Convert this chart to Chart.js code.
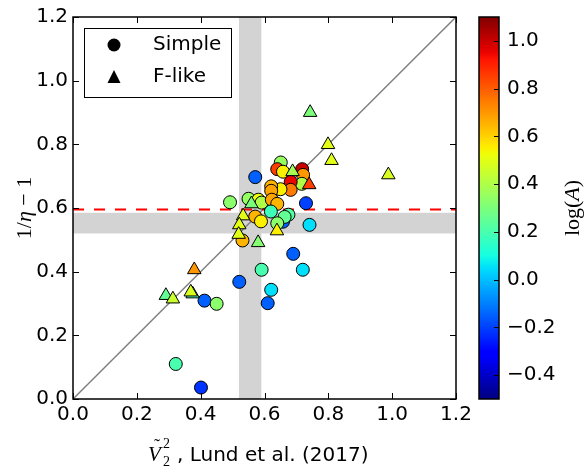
<!DOCTYPE html>
<html><head><meta charset="utf-8">
<script src="https://cdn.jsdelivr.net/npm/chart.js@4/dist/chart.umd.min.js"></script>
<style>html,body{margin:0;padding:0;background:#fff}#wrap{width:584px;height:469px}</style>
</head><body><div id="wrap"><canvas id="c" width="584" height="469"></canvas></div>
<script>
// ---- data ----
const simpleX = [0.571,0.651,0.640,0.658,0.718,0.721,0.717,0.682,0.682,0.650,0.621,0.621,0.730,0.492,0.550,0.581,0.591,0.623,0.640,0.620,0.571,0.658,0.589,0.675,0.663,0.640,0.741,0.531,0.690,0.591,0.720,0.521,0.621,0.610,0.412,0.450,0.322,0.401];
const simpleY = [0.697,0.743,0.722,0.714,0.722,0.704,0.676,0.682,0.657,0.659,0.668,0.654,0.615,0.618,0.629,0.626,0.617,0.626,0.613,0.589,0.573,0.557,0.558,0.579,0.572,0.552,0.547,0.498,0.456,0.406,0.406,0.368,0.343,0.301,0.309,0.299,0.110,0.036];
const simpleLogA = [-0.15,0.35,0.85,0.55,1.00,0.70,0.40,0.95,0.75,0.55,0.65,0.68,-0.20,0.33,0.35,0.52,0.40,0.68,0.65,0.18,0.65,-0.15,0.55,0.22,0.25,0.33,0.05,0.65,-0.15,0.20,0.05,-0.15,0.05,-0.15,-0.15,0.33,0.20,-0.22];
const flikeX = [0.743,0.799,0.810,0.988,0.688,0.740,0.559,0.533,0.521,0.519,0.639,0.580,0.380,0.291,0.313,0.375,0.369];
const flikeY = [0.900,0.799,0.749,0.704,0.714,0.673,0.613,0.575,0.547,0.517,0.528,0.491,0.406,0.325,0.314,0.330,0.336];
const flikeLogA = [0.30,0.50,0.50,0.48,0.38,0.85,0.30,0.50,0.50,0.50,0.55,0.32,0.70,0.25,0.45,0.20,0.48];
const axisTicks = [0,0.2,0.4,0.6,0.8,1.0,1.2];
const cbTicks = [-0.4,-0.2,0,0.2,0.4,0.6,0.8,1.0];
const cbMin = -0.5, cbMax = 1.1;
const vBand = [0.52,0.59];
const hBand = [0.52,0.585];
const redLineY = 0.595;
const diagLine = [0,1.2];

// ---- colormap (jet) ----
function interp(pts,t){for(let i=1;i<pts.length;i++){if(t<=pts[i][0]){const a=pts[i-1],b=pts[i];return a[1]+(b[1]-a[1])*(t-a[0])/(b[0]-a[0]);}}return pts[pts.length-1][1];}
function jet(t){t=Math.max(0,Math.min(1,t));
 const r=interp([[0,0],[0.35,0],[0.66,1],[0.89,1],[1,0.5]],t);
 const g=interp([[0,0],[0.125,0],[0.375,1],[0.64,1],[0.91,0],[1,0]],t);
 const b=interp([[0,0.5],[0.11,1],[0.34,1],[0.65,0],[1,0]],t);
 return `rgb(${Math.round(r*255)},${Math.round(g*255)},${Math.round(b*255)})`;}
const cmap = v => jet((v-cbMin)/(cbMax-cbMin));

const FONT='DejaVu Sans';
const fmt = v => { const s=Math.abs(v).toFixed(1); return (v< -1e-9?'\u2212':'')+s; };
const zeroPad = s => { s.paddingTop=0; s.paddingBottom=0; s.paddingLeft=0; s.paddingRight=0; };

const overlay = {
 id:'overlay',
 beforeDatasetsDraw(chart){
  const {ctx,chartArea:a,scales:{x,y}}=chart;
  ctx.save();
  ctx.fillStyle='#d3d3d3';
  const x0=x.getPixelForValue(vBand[0]), x1=x.getPixelForValue(vBand[1]);
  ctx.fillRect(x0,a.top,x1-x0,a.bottom-a.top);
  const y0=y.getPixelForValue(hBand[1]), y1=y.getPixelForValue(hBand[0]);
  ctx.fillRect(a.left,y0,a.right-a.left,y1-y0);
  ctx.restore();
 },
 afterDatasetsDraw(chart){
  const {ctx,chartArea:a,scales:{x,y,cb}}=chart;
  ctx.save();
  // frame
  ctx.strokeStyle='#000'; ctx.lineWidth=1.5;
  ctx.strokeRect(a.left,a.top,a.right-a.left,a.bottom-a.top);
  // inward ticks
  ctx.lineWidth=1;
  ctx.beginPath();
  axisTicks.forEach(v=>{const px=Math.round(x.getPixelForValue(v))+0.5;
    ctx.moveTo(px,a.bottom);ctx.lineTo(px,a.bottom-6);ctx.moveTo(px,a.top);ctx.lineTo(px,a.top+6);
    const py=Math.round(y.getPixelForValue(v))+0.5;
    ctx.moveTo(a.left,py);ctx.lineTo(a.left+6,py);ctx.moveTo(a.right,py);ctx.lineTo(a.right-6,py);});
  ctx.stroke();
  // colorbar
  const cx0=a.right+23, cx1=a.right+43;
  const ct=cb.getPixelForValue(cbMax), cbt=cb.getPixelForValue(cbMin);
  const grad=ctx.createLinearGradient(0,cbt,0,ct);
  for(let i=0;i<=64;i++){grad.addColorStop(i/64,jet(i/64));}
  ctx.fillStyle=grad; ctx.fillRect(cx0,ct,cx1-cx0,cbt-ct);
  ctx.lineWidth=1.5; ctx.strokeRect(cx0,ct,cx1-cx0,cbt-ct);
  ctx.lineWidth=1; ctx.beginPath();
  cbTicks.forEach(v=>{const py=Math.round(cb.getPixelForValue(v))+0.5;ctx.moveTo(cx1,py);ctx.lineTo(cx1-5,py);});
  ctx.stroke();
  // colorbar label
  ctx.save(); ctx.translate(a.right+117,(ct+cbt)/2); ctx.rotate(-Math.PI/2);
  ctx.fillStyle='#000'; ctx.textBaseline='middle';
  const p1='log(', p3=')';
  ctx.font='22px "Liberation Serif"'; const w1=ctx.measureText(p1).width, w3=ctx.measureText(p3).width;
  ctx.font='italic 22px "Liberation Serif"'; const w2=ctx.measureText('A').width;
  let sx=-(w1+w2+w3)/2;
  ctx.textAlign='left';
  ctx.font='22px "Liberation Serif"'; ctx.fillText(p1,sx,0); sx+=w1;
  ctx.font='italic 22px "Liberation Serif"'; ctx.fillText('A',sx,0); sx+=w2;
  ctx.font='22px "Liberation Serif"'; ctx.fillText(p3,sx,0);
  ctx.restore();
  // y title
  ctx.save(); ctx.translate(25,(a.top+a.bottom)/2); ctx.rotate(-Math.PI/2);
  ctx.fillStyle='#000'; ctx.textBaseline='middle'; ctx.textAlign='left';
  const parts=[['1/',''],['\u03b7','italic '],[' \u2212 1','']];
  let tw=0; parts.forEach(p=>{ctx.font=p[1]+'22px "Liberation Serif"'; tw+=ctx.measureText(p[0]).width;});
  let tx=-tw/2; parts.forEach(p=>{ctx.font=p[1]+'22px "Liberation Serif"'; ctx.fillText(p[0],tx,0); tx+=ctx.measureText(p[0]).width;});
  ctx.restore();
  // x title
  ctx.fillStyle='#000'; ctx.textAlign='left'; ctx.textBaseline='alphabetic';
  ctx.font='italic 21px "Liberation Serif"'; ctx.fillText('V',148,461);
  ctx.font='18px "Liberation Serif"'; ctx.fillText('\u02dc',154,452);
  ctx.font='14px "Liberation Serif"'; ctx.fillText('2',163,448); ctx.fillText('2',163,466);
  ctx.font='20px '+FONT; ctx.fillText(', Lund et al. (2017)',177,461);
  // legend
  ctx.fillStyle='#fff'; ctx.fillRect(84.5,28.5,147,69);
  ctx.strokeStyle='#000'; ctx.lineWidth=1; ctx.strokeRect(84.5,28.5,147,69);
  ctx.fillStyle='#000';
  ctx.beginPath(); ctx.arc(114,45,6.5,0,Math.PI*2); ctx.fill();
  ctx.beginPath(); ctx.moveTo(114,70); ctx.lineTo(120.5,83); ctx.lineTo(107.5,83); ctx.closePath(); ctx.fill();
  ctx.font='20px '+FONT; ctx.textBaseline='middle';
  ctx.fillText('Simple',153,45); ctx.fillText('F-like',153,77);
  ctx.restore();
 }
};

const tickFont={family:FONT,size:20};
new Chart(document.getElementById('c'),{
 type:'scatter',
 data:{datasets:[
  {type:'line',data:diagLine.map(v=>({x:v,y:v})),borderColor:'#808080',borderWidth:1.5,pointRadius:0,showLine:true,order:4},
  {type:'line',data:[{x:0,y:redLineY},{x:1.2,y:redLineY}],borderColor:'#ff0000',borderWidth:2,borderDash:[11,10],pointRadius:0,showLine:true,order:3},
  {label:'Simple',data:simpleX.map((v,i)=>({x:v,y:simpleY[i]})),pointStyle:'circle',pointRadius:6.5,pointBorderWidth:1,pointBorderColor:'#000',pointBackgroundColor:simpleLogA.map(cmap),order:2},
  {label:'F-like',data:flikeX.map((v,i)=>({x:v,y:flikeY[i]})),pointStyle:'triangle',pointRadius:7.8,pointBorderWidth:1,pointBorderColor:'#000',pointBackgroundColor:flikeLogA.map(cmap),order:1}
 ]},
 options:{
  responsive:false,animation:false,events:[],
  layout:{autoPadding:false,padding:{top:17,left:0,right:0,bottom:0}},
  plugins:{legend:{display:false},tooltip:{enabled:false}},
  scales:{
   x:{type:'linear',position:'bottom',min:0,max:1.2,
      afterBuildTicks:s=>{s.ticks=axisTicks.map(v=>({value:v}));},
      afterFit:s=>{s.height=70;zeroPad(s);},
      ticks:{font:tickFont,color:'#000',padding:4,maxRotation:0,autoSkip:false,callback:v=>fmt(v)},
      grid:{display:false,drawTicks:false},border:{display:false}},
   y:{type:'linear',position:'left',min:0,max:1.2,
      afterBuildTicks:s=>{s.ticks=axisTicks.map(v=>({value:v}));},
      afterFit:s=>{s.width=73;zeroPad(s);},
      ticks:{font:tickFont,color:'#000',padding:5,autoSkip:false,callback:v=>fmt(v)},
      grid:{display:false,drawTicks:false},border:{display:false}},
   cb:{type:'linear',position:'right',min:cbMin,max:cbMax,
      afterBuildTicks:s=>{s.ticks=cbTicks.map(v=>({value:v}));},
      afterFit:s=>{s.width=128;zeroPad(s);},
      ticks:{font:tickFont,color:'#000',padding:51,autoSkip:false,callback:v=>fmt(v)},
      grid:{display:false,drawTicks:false},border:{display:false}}
  }
 },
 plugins:[overlay]
});
</script></body></html>
